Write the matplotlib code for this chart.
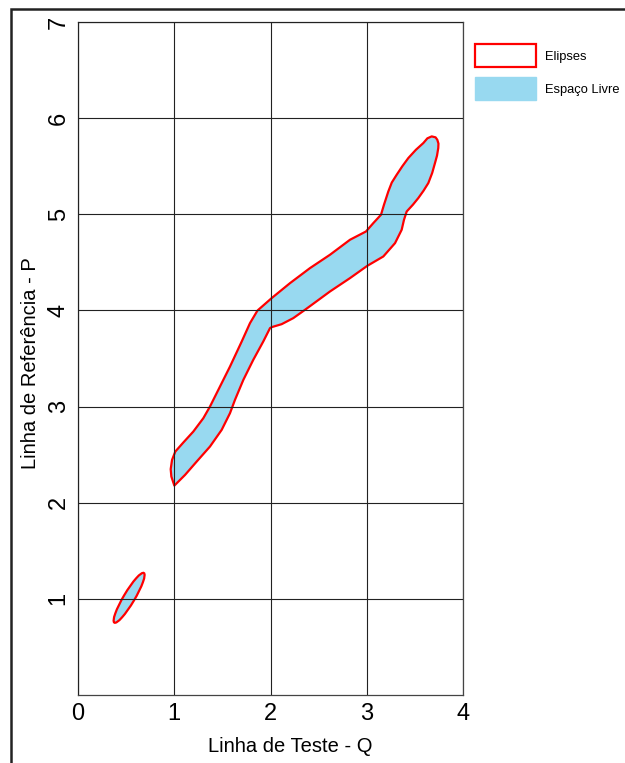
import matplotlib.pyplot as plt
from matplotlib.patches import Ellipse, Polygon, Rectangle, Patch

plt.rcParams['font.family'] = ['Liberation Sans', 'DejaVu Sans']

# small ellipse near the origin: centre, axis lengths, rotation
small_center = (0.531, 1.011)
small_width = 0.60
small_height = 0.115
small_angle = 59.3

# outline of the merged ellipses along the diagonal (Q, P), traced counter-clockwise
chain_q = [1.001, 1.112, 1.233, 1.371, 1.493, 1.579, 1.631, 1.718, 1.821, 1.925,
           1.995, 2.012, 2.116, 2.237, 2.358, 2.618, 2.826, 3.006, 3.172, 3.294,
           3.363, 3.387, 3.415, 3.480, 3.536, 3.590, 3.640, 3.680, 3.709, 3.730,
           3.743, 3.745, 3.733, 3.715, 3.675, 3.630, 3.588, 3.510, 3.432, 3.370,
           3.311, 3.260, 3.224, 3.179, 3.148, 3.068, 2.992, 2.826, 2.618, 2.410,
           2.203, 2.012, 1.873, 1.863, 1.787, 1.701, 1.579, 1.458, 1.371, 1.302,
           1.198, 1.094, 1.011, 0.977, 0.963, 0.970]
chain_p = [2.178, 2.289, 2.428, 2.584, 2.758, 2.931, 3.070, 3.278, 3.486, 3.677,
           3.816, 3.826, 3.857, 3.920, 4.006, 4.197, 4.336, 4.464, 4.561, 4.700,
           4.839, 4.943, 5.029, 5.100, 5.169, 5.245, 5.325, 5.430, 5.533, 5.610,
           5.689, 5.735, 5.775, 5.800, 5.810, 5.790, 5.741, 5.670, 5.585, 5.500,
           5.411, 5.330, 5.237, 5.099, 4.995, 4.908, 4.821, 4.735, 4.579, 4.440,
           4.284, 4.128, 4.006, 3.996, 3.868, 3.677, 3.416, 3.174, 3.000, 2.879,
           2.740, 2.626, 2.532, 2.445, 2.349, 2.272]

xticks = [0, 1, 2, 3, 4]
yticks = [1, 2, 3, 4, 5, 6, 7]

fill_color = '#98D9F0'
edge_color = '#FF0000'

fig = plt.figure(figsize=(6.25, 7.63), dpi=100)
ax = fig.add_axes([0.1248, 0.0891, 0.616, 0.8821])

ax.add_patch(Ellipse(small_center, small_width, small_height, angle=small_angle,
                     facecolor=fill_color, edgecolor=edge_color, lw=1.6, zorder=2))
ax.add_patch(Polygon(list(zip(chain_q, chain_p)), closed=True, facecolor=fill_color,
                     edgecolor=edge_color, lw=1.6, joinstyle='round', zorder=2))

ax.set_xlim(0, 4)
ax.set_ylim(0, 7)
ax.set_xticks(xticks)
ax.set_yticks(yticks)
ax.grid(True, color='#222222', lw=0.8, zorder=4)
ax.set_axisbelow(False)
ax.tick_params(length=0, labelsize=17, pad=6)
ax.tick_params(axis='y', labelrotation=90)
for lbl in ax.get_yticklabels():
    lbl.set_va('center')
for s in ax.spines.values():
    s.set_color('#444444')
    s.set_linewidth(0.9)

ax.set_xlabel('Linha de Teste - Q', fontsize=14.5)
ax.xaxis.set_label_coords(0.551, -0.062)
ax.set_ylabel('Linha de Referência - P', fontsize=14.5)
ax.yaxis.set_label_coords(-0.098, 0.493)

handles = [Patch(facecolor='white', edgecolor=edge_color, lw=1.6, label='Elipses'),
           Patch(facecolor=fill_color, edgecolor=fill_color, label='Espaço Livre')]
fig.legend(handles=handles, loc='upper left', bbox_to_anchor=(475 / 625, 1 - 44 / 763),
           frameon=False, fontsize=9.3, handlelength=4.7, handleheight=2.4,
           labelspacing=0.75, handletextpad=0.7, borderpad=0, borderaxespad=0)

# outer frame
fig.add_artist(Rectangle((11 / 625, -0.1), 1.2, 1.0 - 9 / 763 + 0.1,
                         transform=fig.transFigure, fill=False,
                         edgecolor='#222222', lw=1.8))

fig.savefig('out.png', dpi=100)
